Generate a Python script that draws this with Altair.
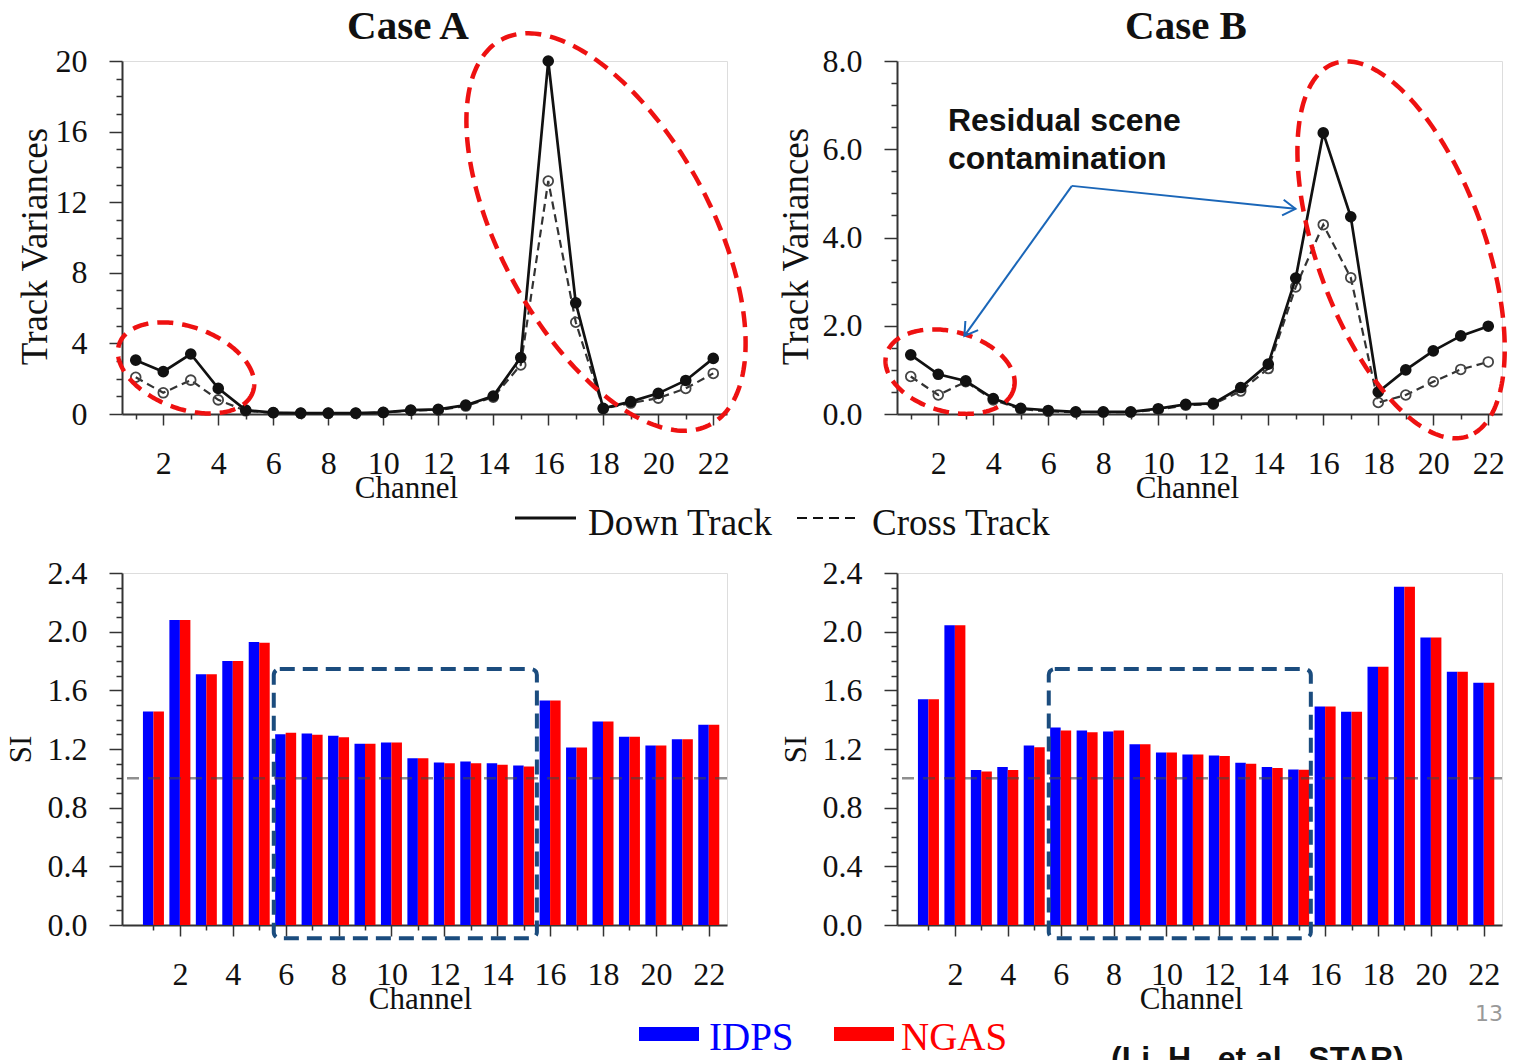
import math

import altair as alt
import numpy as np
import pandas as pd

# ---------------------------------------------------------------- data
channels = list(range(1, 23))

# Track variances, Case A
down_a = [3.05, 2.40, 3.40, 1.45, 0.22, 0.08, 0.05, 0.05, 0.05, 0.09, 0.22,
          0.26, 0.50, 1.02, 3.20, 20.0, 6.30, 0.32, 0.70, 1.17, 1.90, 3.15]
cross_a = [2.08, 1.20, 1.92, 0.80, 0.18, 0.07, 0.04, 0.04, 0.04, 0.08, 0.20,
           0.22, 0.45, 0.95, 2.78, 13.2, 5.20, 0.30, 0.62, 0.90, 1.45, 2.30]

# Track variances, Case B
down_b = [1.34, 0.90, 0.75, 0.35, 0.13, 0.08, 0.05, 0.05, 0.05, 0.12, 0.22,
          0.24, 0.60, 1.13, 3.08, 6.37, 4.47, 0.50, 1.00, 1.43, 1.77, 1.99]
cross_b = [0.85, 0.43, 0.73, 0.32, 0.11, 0.06, 0.04, 0.04, 0.04, 0.10, 0.20,
           0.22, 0.52, 1.03, 2.88, 4.29, 3.09, 0.26, 0.43, 0.73, 1.01, 1.18]

# Striping index, Case A
idps_a = [1.456, 2.080, 1.710, 1.800, 1.930, 1.300, 1.305, 1.290, 1.235, 1.244, 1.137,
          1.108, 1.115, 1.103, 1.087, 1.530, 1.210, 1.388, 1.283, 1.224, 1.267, 1.365]
ngas_a = [1.456, 2.080, 1.710, 1.800, 1.925, 1.310, 1.297, 1.280, 1.235, 1.244, 1.137,
          1.103, 1.103, 1.092, 1.080, 1.530, 1.210, 1.388, 1.283, 1.224, 1.267, 1.365]

# Striping index, Case B
idps_b = [1.540, 2.043, 1.056, 1.078, 1.224, 1.347, 1.326, 1.319, 1.233, 1.176, 1.162,
          1.156, 1.106, 1.078, 1.060, 1.490, 1.454, 1.760, 2.307, 1.960, 1.727, 1.652]
ngas_b = [1.540, 2.043, 1.046, 1.056, 1.212, 1.326, 1.315, 1.326, 1.233, 1.176, 1.162,
          1.153, 1.099, 1.071, 1.058, 1.490, 1.454, 1.760, 2.307, 1.960, 1.727, 1.652]

# ---------------------------------------------------------------- style
SERIF = "Liberation Serif"
SANS = "Liberation Sans"
INK = "#111111"
AXIS = "#333333"
RED = "#EE1111"
NAVY = "#1B4C7E"
ARROW = "#1A66B8"
BLUE_BAR = "#0000FF"
RED_BAR = "#FF0000"

PANEL_W = 605
TOP_H = 353
BOT_H = 352
CHEVRON = "M -1 -0.62 L 0 0 L -1 0.62"


def is_major(step):
    return f"abs(datum.value / {step} - round(datum.value / {step})) < 1e-6"


def x_axis(title_x):
    return alt.Axis(
        values=channels,
        labelExpr="datum.value % 2 === 0 ? datum.label : ''",
        labelOverlap=False, labelFlush=False,
        tickSize={"condition": {"test": "datum.value % 2 === 0", "value": 11}, "value": 5},
        tickColor=AXIS, tickWidth=1.5, domainColor=AXIS, domainWidth=2,
        labelFont=SERIF, labelFontSize=32, labelColor=INK,
        labelBaseline="middle", labelPadding=38,
        title="Channel", titleFont=SERIF, titleFontSize=31, titleFontWeight="normal",
        titleColor=INK, titleX=title_x, titleY=74, titleBaseline="middle",
        titleAlign="center", grid=False,
    )


def y_axis(values, step, fmt, title, title_x, title_y, title_size):
    return alt.Axis(
        values=values, format=fmt,
        labelExpr=f"{is_major(step)} ? datum.label : ''",
        labelOverlap=False, labelFlush=False,
        tickSize={"condition": {"test": is_major(step), "value": 13}, "value": 6},
        tickColor=AXIS, tickWidth=1.5, domainColor=AXIS, domainWidth=2,
        labelFont=SERIF, labelFontSize=32, labelColor=INK,
        labelAlign="right", labelBaseline="middle", labelPadding=22,
        title=title, titleFont=SERIF, titleFontSize=title_size, titleFontWeight="normal",
        titleColor=INK, titleX=title_x, titleY=title_y, titleBaseline="middle",
        titleAlign="center", grid=False,
    )


def one_row():
    return alt.Chart(alt.Data(values=[{}]))


def label(text, x, y, size, color=INK, font=SERIF, weight="normal", align="left"):
    return one_row().mark_text(
        text=text, font=font, fontSize=size, fontWeight=weight, color=color,
        align=align, baseline="alphabetic",
    ).encode(x=alt.value(x), y=alt.value(y))


def ellipse(cx, cy, a_px, b_px, phi_deg, px_x, px_y):
    """Rotated ellipse outline: centre in data units, radii in pixels."""
    t = np.linspace(0, 2 * np.pi, 241)
    phi = np.radians(phi_deg)
    dx = a_px * np.cos(t) * np.cos(phi) - b_px * np.sin(t) * np.sin(phi)
    dy = a_px * np.cos(t) * np.sin(phi) + b_px * np.sin(t) * np.cos(phi)
    return pd.DataFrame({"ex": cx + dx / px_x, "ey": cy - dy / px_y, "ord": np.arange(t.size)})


# ---------------------------------------------------------------- panels
def track_panel(down, cross, ymax, ystep, yminor, yfmt, title, title_x,
                xtitle_x, ytitle_x, ellipses, extra=None):
    df = pd.DataFrame({"channel": channels, "down": down, "cross": cross})
    xs = alt.Scale(domain=[0.5, 22.5], nice=False, zero=False)
    ys = alt.Scale(domain=[0, ymax], nice=False, zero=False)
    yvals = [round(i * yminor, 2) for i in range(int(round(ymax / yminor)) + 1)]
    xa = x_axis(xtitle_x)
    ya = y_axis(yvals, ystep, yfmt, "Track Variances", ytitle_x, 185, 37)
    px_x = PANEL_W / 22.0
    px_y = TOP_H / ymax

    def X(f):
        return alt.X(f, type="quantitative", scale=xs, axis=xa)

    def Y(f):
        return alt.Y(f, type="quantitative", scale=ys, axis=ya)

    base = alt.Chart(df)
    layers = [
        base.mark_line(color="#333333", strokeWidth=2.2, strokeDash=[8, 5]).encode(
            x=X("channel"), y=Y("cross")),
        base.mark_point(filled=False, size=95, color="#444444", strokeWidth=1.8,
                        opacity=1).encode(x=X("channel"), y=Y("cross")),
        base.mark_line(color=INK, strokeWidth=2.7).encode(x=X("channel"), y=Y("down")),
        base.mark_circle(size=135, color=INK, opacity=1).encode(x=X("channel"), y=Y("down")),
    ]
    for cx, cy, a, b, phi in ellipses:
        layers.append(
            alt.Chart(ellipse(cx, cy, a, b, phi, px_x, px_y)).mark_line(
                color=RED, strokeWidth=4.5, strokeDash=[16, 9], strokeCap="butt"
            ).encode(x=X("ex"), y=Y("ey"), order="ord:Q")
        )
    layers.append(label(title, title_x, -22, 41, weight="bold", align="center"))
    if extra:
        layers += extra(X, Y, px_x, px_y)
    return alt.layer(*layers).properties(width=PANEL_W, height=TOP_H)


def si_panel(idps, ngas, xtitle_x, box, extra=None):
    df = pd.DataFrame({"channel": channels, "IDPS": idps, "NGAS": ngas})
    xs = alt.Scale(domain=[0, 22.5], nice=False, zero=False)
    ys = alt.Scale(domain=[0, 2.4], nice=False, zero=False)
    yvals = [round(i * 0.1, 1) for i in range(25)]
    xa = x_axis(xtitle_x)
    ya = y_axis(yvals, 0.4, ".1f", "SI", -101, BOT_H / 2, 31)

    def X(f):
        return alt.X(f, type="quantitative", scale=xs, axis=xa)

    def Y(f):
        return alt.Y(f, type="quantitative", scale=ys, axis=ya)

    base = alt.Chart(df)
    box_df = pd.DataFrame([box], columns=["x0", "x1", "y0", "y1"])
    layers = [
        base.mark_bar(color=BLUE_BAR, size=10.5, xOffset=-5.25, orient="vertical").encode(
            x=X("channel"), y=Y("IDPS")),
        base.mark_bar(color=RED_BAR, size=10.5, xOffset=5.25, orient="vertical").encode(
            x=X("channel"), y=Y("NGAS")),
        one_row().mark_rule(color="#444444", opacity=0.6, strokeWidth=2.5,
                            strokeDash=[12, 9]).encode(
            y=alt.YDatum(1.0, type="quantitative", scale=ys, axis=ya)),
        alt.Chart(box_df).mark_rect(fill="white", fillOpacity=0, stroke=NAVY, strokeWidth=4,
                                    strokeDash=[15, 8], cornerRadius=6).encode(
            x=X("x0"), x2="x1", y=Y("y0"), y2="y1"),
    ]
    if extra:
        layers += extra
    return alt.layer(*layers).properties(width=PANEL_W, height=BOT_H)


# ---------------------------------------------------------------- annotations
def case_a_extra(X, Y, px_x, px_y):
    return [
        # pins the page origin relative to the first panel
        one_row().mark_rule(color="white", strokeWidth=1).encode(
            x=alt.value(-121), x2=alt.value(-120), y=alt.value(-60), y2=alt.value(-60)),
        one_row().mark_rule(color=INK, strokeWidth=3).encode(
            x=alt.value(393), x2=alt.value(454), y=alt.value(457), y2=alt.value(457)),
        label("Down Track", 466, 474, 37),
        one_row().mark_rule(color=INK, strokeWidth=2, strokeDash=[10, 6]).encode(
            x=alt.value(675), x2=alt.value(733), y=alt.value(457), y2=alt.value(457)),
        label("Cross Track", 750, 474, 37),
    ]


note_lines = ["Residual scene", "contamination"]
note_x = 2.35
note_y = [6.41, 5.55]
arrow_from = (6.86, 5.17)
arrow_to = [(2.95, 1.77), (14.99, 4.65)]


def case_b_extra(X, Y, px_x, px_y):
    note = pd.DataFrame({"tx": [note_x, note_x], "ty": note_y, "txt": note_lines})
    rows = []
    for x2, y2 in arrow_to:
        dxp = (x2 - arrow_from[0]) * px_x
        dyp = -(y2 - arrow_from[1]) * px_y
        ang = math.degrees(math.atan2(dyp, dxp)) % 360
        rows.append({"x": arrow_from[0], "y": arrow_from[1], "x2": x2, "y2": y2, "ang": ang})
    arrows = pd.DataFrame(rows)
    return [
        alt.Chart(note).mark_text(align="left", baseline="alphabetic", font=SANS,
                                  fontWeight="bold", fontSize=32, color=INK).encode(
            x=X("tx"), y=Y("ty"), text="txt:N"),
        alt.Chart(arrows).mark_rule(color=ARROW, strokeWidth=2).encode(
            x=X("x"), y=Y("y"), x2="x2", y2="y2"),
        alt.Chart(arrows).mark_point(shape=CHEVRON, filled=False, size=640, strokeWidth=2,
                                     color=ARROW, opacity=1).encode(
            x=X("x2"), y=Y("y2"), angle=alt.Angle("ang:Q", scale=None)),
    ]


bars_legend = [
    one_row().mark_rect(color=BLUE_BAR).encode(
        x=alt.value(517), x2=alt.value(577), y=alt.value(454), y2=alt.value(468)),
    label("IDPS", 587, 477, 39, color=BLUE_BAR),
    one_row().mark_rect(color=RED_BAR).encode(
        x=alt.value(712), x2=alt.value(772), y=alt.value(454), y2=alt.value(468)),
    label("NGAS", 779, 477, 39, color=RED_BAR),
]

page_marks = [
    label("13", 606, 448, 22, color="#999999", font="DejaVu Sans", align="right"),
    label("(Li, H., et al., STAR)", 214, 496, 32, font=SANS, weight="bold"),
]

# ---------------------------------------------------------------- assemble
panel_a = track_panel(
    down_a, cross_a, 20, 4, 1, "d", "Case A", 286, 284, -87,
    ellipses=[(2.83, 2.61, 71, 41, 20), (18.1, 10.31, 219, 105, 61.4)],
    extra=case_a_extra,
)
panel_b = track_panel(
    down_b, cross_b, 8, 2, 0.5, ".1f", "Case B", 289, 290, -101,
    ellipses=[(2.43, 0.96, 66, 40, 15), (18.83, 3.72, 198, 84, 70.2)],
    extra=case_b_extra,
)
panel_c = si_panel(idps_a, ngas_a, 298, (5.55, 15.5, -0.09, 1.745), extra=bars_legend)
panel_d = si_panel(idps_b, ngas_b, 294, (5.55, 15.46, -0.09, 1.745), extra=page_marks)

chart = alt.concat(
    panel_a, panel_b, panel_c, panel_d,
    columns=2, spacing={"row": 159, "column": 170}, bounds="flush", padding=0,
).configure_view(stroke="#444444", strokeWidth=1.5).configure(background="white")

chart.save("out.html", embed_options={"renderer": "svg", "actions": False})
